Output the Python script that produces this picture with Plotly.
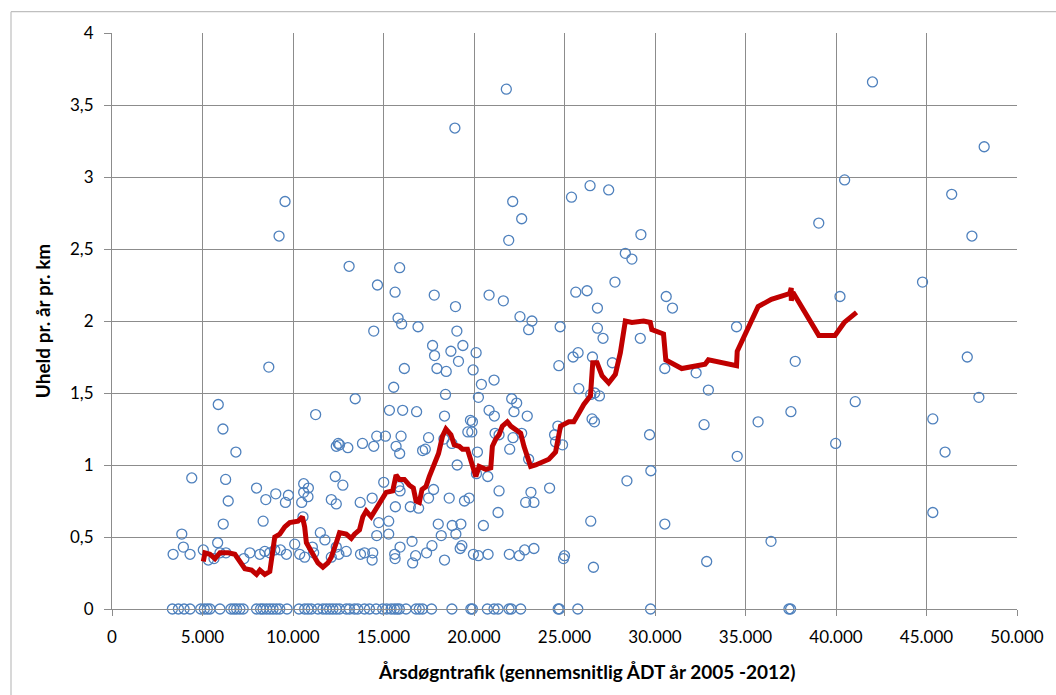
import plotly.graph_objects as go

# Road sections: average daily traffic (ÅDT) vs. accidents per year per km
adt = [
    9560, 9230, 13100, 8663,
    5870, 6129, 6845, 4406, 6278, 6421, 6146, 3855, 3943, 4312, 3376, 5044, 5837, 5320, 5634,
    5964, 6294, 7286, 7616, 7985, 8497, 9048, 9582, 9747, 8349, 11251, 12391, 12501, 13030,
    10590, 10849, 10590, 10827, 10480, 10552, 11510, 11763, 12336, 12754, 12116, 12391,
    8167, 8442, 8718, 8993, 9307, 9637, 10094, 10370, 10645, 11069, 11141, 12116, 12391, 12534, 12942,
    21786, 18944, 22138, 22634, 21918, 15893, 14665, 15640, 17804, 20833, 21621, 18977, 15805,
    16003, 16907, 14461, 19054, 22540, 23201, 23019, 17711, 17821, 18724, 19385, 20117, 19143,
    16152, 17953, 18465, 19952, 20409, 21108, 15563,
    25387, 26412, 27441, 29221, 28361, 28724, 27788, 25624, 26246, 26819, 30619, 30966, 24759,
    26819, 27128, 29187, 24688, 25475, 25751, 26544, 27645, 30542, 32271, 32949, 25790,
    13437, 18426, 15326, 16059, 16829, 20244, 18371, 20833, 21125, 22083, 22358, 22210, 22942,
    12572, 13839, 14461, 14627, 15106, 15695, 15970, 15893, 17490, 17160, 17309, 18338, 18779,
    19803, 19913, 19660, 19880, 20189, 19071, 20134, 20761, 21164, 21384, 22155, 21973, 22634, 23019,
    15012, 15838, 15915, 14373, 13712, 15656, 16482, 16940, 17490, 17766, 18630, 19473, 19732,
    21384, 21329, 23146, 22854, 23311, 14737, 15288, 14627, 15288, 16576, 18025, 18190, 18796,
    19275, 18999, 20519, 17677, 17380, 16774, 16609, 15915, 15618, 15640, 14406, 14373, 13729,
    13949, 18371, 19236, 19330, 19968, 20244, 20778, 21951, 22502, 22799, 23311,
    26451, 26671, 26930, 32712, 26522, 26654, 24633, 24451, 24506, 24892, 29699, 29771, 28449,
    24176, 26451, 30542, 25002, 24947, 26599, 32855,
    42015, 48187, 40476, 46392, 39048, 47509, 44780, 40220, 34505, 37747, 47253, 47894, 41062,
    37509, 35696, 45348, 39982, 34542, 46026, 45348, 36410,
]
uheld = [
    2.83, 2.59, 2.38, 1.68,
    1.42, 1.25, 1.09, 0.91, 0.90, 0.75, 0.59, 0.52, 0.43, 0.38, 0.38, 0.41, 0.46, 0.34, 0.35,
    0.39, 0.39, 0.35, 0.39, 0.84, 0.76, 0.80, 0.74, 0.79, 0.61, 1.35, 1.13, 1.15, 1.12,
    0.87, 0.84, 0.81, 0.78, 0.74, 0.64, 0.53, 0.48, 0.92, 0.86, 0.76, 0.73,
    0.38, 0.40, 0.39, 0.41, 0.41, 0.38, 0.45, 0.38, 0.36, 0.43, 0.39, 0.36, 0.43, 0.38, 0.40,
    3.61, 3.34, 2.83, 2.71, 2.56, 2.37, 2.25, 2.20, 2.18, 2.18, 2.14, 2.10, 2.02,
    1.98, 1.96, 1.93, 1.93, 2.03, 2.00, 1.94, 1.83, 1.76, 1.79, 1.83, 1.78, 1.72,
    1.67, 1.67, 1.65, 1.66, 1.56, 1.59, 1.54,
    2.86, 2.94, 2.91, 2.60, 2.47, 2.43, 2.27, 2.20, 2.21, 2.09, 2.17, 2.09, 1.96,
    1.95, 1.88, 1.88, 1.69, 1.75, 1.78, 1.75, 1.71, 1.67, 1.64, 1.52, 1.53,
    1.46, 1.49, 1.38, 1.38, 1.37, 1.47, 1.34, 1.38, 1.34, 1.46, 1.43, 1.37, 1.34,
    1.14, 1.15, 1.13, 1.20, 1.20, 1.13, 1.20, 1.08, 1.19, 1.10, 1.11, 1.18, 1.15,
    1.31, 1.30, 1.23, 1.23, 1.09, 1.00, 0.94, 0.92, 1.22, 1.21, 1.19, 1.11, 1.22, 1.04,
    0.88, 0.85, 0.82, 0.77, 0.74, 0.71, 0.71, 0.70, 0.77, 0.83, 0.77, 0.75, 0.77,
    0.82, 0.67, 0.81, 0.74, 0.74, 0.60, 0.61, 0.51, 0.52, 0.47, 0.59, 0.51, 0.58,
    0.59, 0.52, 0.58, 0.44, 0.39, 0.37, 0.32, 0.43, 0.38, 0.35, 0.39, 0.34, 0.38,
    0.39, 0.34, 0.42, 0.44, 0.38, 0.37, 0.38, 0.38, 0.37, 0.41, 0.42,
    1.49, 1.50, 1.48, 1.28, 1.32, 1.30, 1.27, 1.21, 1.16, 1.14, 1.21, 0.96, 0.89,
    0.84, 0.61, 0.59, 0.37, 0.35, 0.29, 0.33,
    3.66, 3.21, 2.98, 2.88, 2.68, 2.59, 2.27, 2.17, 1.96, 1.72, 1.75, 1.47, 1.44,
    1.37, 1.30, 1.32, 1.15, 1.06, 1.09, 0.67, 0.47,
]

# Sections with no recorded accidents
adt_zero = [
    3337, 3668, 3982, 4312, 4901, 5100, 5265, 5413, 5964, 6570, 6735, 6884, 7065, 7247,
    7985, 8205, 8349, 8536, 8718, 8899, 9087, 9268, 9670, 10331, 10645, 10827, 11014,
    11378, 11653, 11840, 12022, 12204, 12391, 12572, 12942, 13123, 13398, 13580, 13949,
    14224, 14594, 14957, 15177, 15420, 15601, 15750, 15877, 16246, 16797, 16978, 17160,
    17655, 18779, 19825, 19913, 20739, 21108, 21329, 21934, 22061, 22579, 24650, 24720,
    25734, 29754, 37399, 37491,
]
uheld_zero = [0] * len(adt_zero)

# Running average of accident rate
avg_adt = [
    5044, 5138, 5413, 5689, 5964, 6421, 6790, 7065, 7341, 7710, 7985, 8167, 8442, 8718, 8811,
    8993, 9268, 9544, 9819, 10276, 10518, 10645, 10739, 10921, 11102, 11378, 11653, 11928,
    12115, 12391, 12572, 12942, 13217, 13398, 13674, 13856, 14043, 14318, 14594, 14869,
    15144, 15508, 15695, 15877, 16152, 16427, 16648, 16797, 16978, 17127, 17347, 17529,
    17804, 18041, 18261, 18449, 18724, 18906, 19181, 19363, 19638, 19913, 20101, 20282,
    20651, 20927, 21015, 21202, 21384, 21566, 21841, 22028, 22303, 22579, 22761, 22942,
    23129, 23405, 24137, 24506, 24688, 24782, 25239, 25514, 25790, 26065, 26434, 26478,
    26560, 26797, 27072, 27441, 27810, 28086, 28361, 28725, 29369, 29738, 29826, 30470,
    30597, 31478, 32767, 32949, 34050, 34505, 34542, 35696, 36428, 37436, 37528, 37528,
    37619, 39048, 39945, 40458, 41135,
]
avg_uheld = [
    0.33, 0.39, 0.38, 0.35, 0.39, 0.39, 0.38, 0.33, 0.28, 0.27, 0.24, 0.27, 0.24, 0.26, 0.33,
    0.50, 0.52, 0.57, 0.60, 0.61, 0.64, 0.57, 0.46, 0.41, 0.38, 0.32, 0.29, 0.32,
    0.36, 0.46, 0.53, 0.52, 0.49, 0.52, 0.55, 0.64, 0.68, 0.64, 0.70, 0.76,
    0.81, 0.82, 0.93, 0.90, 0.90, 0.86, 0.84, 0.75, 0.74, 0.83, 0.85, 0.92,
    1.02, 1.08, 1.20, 1.25, 1.21, 1.14, 1.13, 1.11, 1.11, 0.99, 0.92, 0.99,
    0.97, 0.98, 1.13, 1.18, 1.21, 1.27, 1.30, 1.27, 1.25, 1.22, 1.13, 1.05,
    0.99, 1.00, 1.04, 1.09, 1.22, 1.27, 1.30, 1.30, 1.36, 1.42, 1.48, 1.54,
    1.71, 1.71, 1.62, 1.57, 1.63, 1.78, 2.00, 1.99, 2.00, 1.99, 1.94, 1.91,
    1.73, 1.67, 1.70, 1.73, 1.70, 1.69, 1.79, 2.10, 2.15, 2.19, 2.23, 2.14,
    2.20, 1.90, 1.90, 1.99, 2.06,
]

x_ticks = [0, 5000, 10000, 15000, 20000, 25000, 30000, 35000, 40000, 45000, 50000]
y_ticks = [0, 0.5, 1, 1.5, 2, 2.5, 3, 3.5, 4]

x_title = "Årsdøgntrafik (gennemsnitlig ÅDT år 2005 -2012)"
y_title = "Uheld pr. år pr. km"

FONT = "Lato, 'Open Sans', sans-serif"
GRID = "#8c8c8c"

fig = go.Figure()

fig.add_trace(go.Scatter(
    x=adt + adt_zero, y=uheld + uheld_zero, mode="markers",
    marker=dict(symbol="circle-open", size=10, color="#4F81BD",
                line=dict(width=1.3, color="#4F81BD")),
    cliponaxis=False, showlegend=False,
))

fig.add_trace(go.Scatter(
    x=avg_adt, y=avg_uheld, mode="lines",
    line=dict(color="#C00000", width=5),
    cliponaxis=False, showlegend=False,
))

fig.update_layout(
    width=1056, height=695,
    margin=dict(l=112, r=36, t=33, b=86),
    paper_bgcolor="white", plot_bgcolor="white",
    separators=",.",
    font=dict(family=FONT, size=17, color="black"),
    xaxis=dict(
        range=[0, 50000], tickvals=x_ticks, tickformat=",d",
        showgrid=True, gridcolor=GRID, gridwidth=1,
        zeroline=False, showline=True, linecolor=GRID, linewidth=1,
        ticks="outside", ticklen=6, tickcolor=GRID, ticklabelstandoff=7,
        tickfont=dict(size=17), mirror=False,
    ),
    yaxis=dict(
        range=[0, 4], tickvals=y_ticks,
        showgrid=True, gridcolor=GRID, gridwidth=1,
        zeroline=False, showline=True, linecolor=GRID, linewidth=1,
        ticks="outside", ticklen=7, tickcolor=GRID, ticklabelstandoff=7,
        tickfont=dict(size=17),
        title=dict(text=f"<b>{y_title}</b>", font=dict(size=19), standoff=14),
    ),
    annotations=[
        dict(text=f"<b>{x_title}</b>", xref="paper", yref="paper",
             x=0.524, y=-0.109, xanchor="center", yanchor="middle",
             showarrow=False, font=dict(size=19)),
    ],
    shapes=[
        dict(type="line", xref="paper", yref="paper",
             x0=-0.1116, x1=1.1, y0=1.037, y1=1.037,
             line=dict(color="#bfbfbf", width=1.2)),
        dict(type="line", xref="paper", yref="paper",
             x0=-0.1116, x1=-0.1116, y0=1.037, y1=-0.3,
             line=dict(color="#bfbfbf", width=1.2)),
    ],
)

fig.write_html("out.html")
